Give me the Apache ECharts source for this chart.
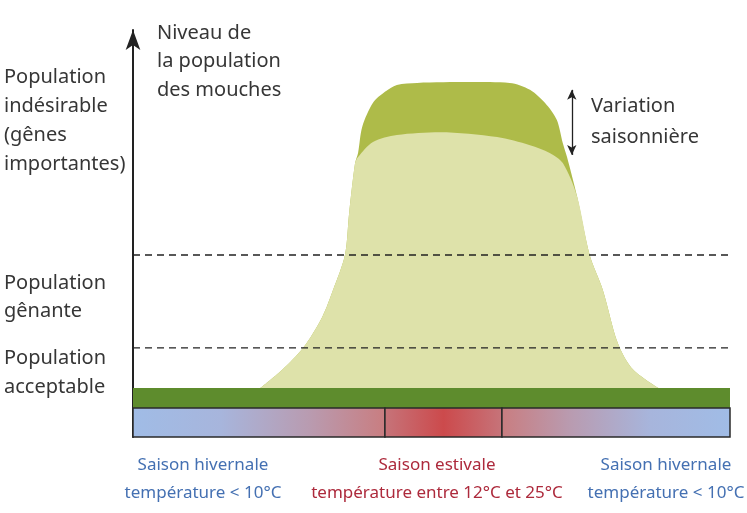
<!DOCTYPE html>
<html>
<head>
<meta charset="utf-8">
<script src="https://cdn.jsdelivr.net/npm/echarts@6/dist/echarts.min.js"></script>
<style>
html,body{margin:0;padding:0;background:#fff;}
#chart{width:747px;height:513px;}
</style>
</head>
<body>
<div id="chart"></div>
<script>
// Population level (light green) outline: [time, level]
const popX = [20.9, 25.0, 28.5, 31.7, 33.5, 35.5, 36.2, 37.2, 37.7, 40.2, 44.2, 51.4, 61.0, 66.5, 69.8, 72.0, 74.4, 76.5, 78.7, 81.2, 83.8, 88.6];
const popY = [11.5, 16.5, 21.9, 29.5, 36.1, 44.7, 55.0, 67.3, 68.8, 72.5, 74.2, 74.9, 73.7, 71.7, 69.8, 67.3, 59.0, 44.7, 36.1, 23.1, 16.5, 11.5];
// Seasonal variation (dark green) outline
const varX = [20.9, 25.0, 28.5, 31.7, 33.5, 35.5, 36.2, 37.2, 37.7, 38.4, 40.2, 42.2, 44.2, 47.6, 56.4, 63.1, 66.5, 69.3, 71.0, 72.0, 72.7, 74.4, 76.5, 78.7, 81.2, 83.8, 88.6];
const varY = [11.5, 16.5, 21.9, 29.5, 36.1, 44.7, 55.0, 67.3, 69.8, 76.2, 82.1, 84.8, 86.5, 87.0, 87.2, 87.0, 85.3, 81.6, 77.9, 72.2, 68.8, 59.0, 44.7, 36.1, 23.1, 16.5, 11.5];
// Threshold levels (dashed lines)
const thresholds = [21.9, 44.7];
// Season boundaries along time axis
const seasonBounds = [0, 42.2, 61.8, 100];
const seasonNames = ['Saison hivernale', 'Saison estivale', 'Saison hivernale'];
const seasonTemps = ['température < 10°C', 'température entre 12°C et 25°C', 'température < 10°C'];
// Level bands
const baseBand = [7.1, 12.04];   // dark green base band
const tempBar = [0, 7.1];        // temperature bar
// Seasonal variation arrow [x, yLow, yHigh]
const variationArrow = [73.5, 69.3, 85.3];
const levelLabels = ['Population\nindésirable\n(gênes\nimportantes)', 'Population\ngênante', 'Population\nacceptable'];

const G = echarts.graphic;
function grad(stops){
  return new G.LinearGradient(0,0,1,0, stops.map(s=>({offset:s[0], color:s[1]})));
}
const segGrads = [
  grad([[0,'#a0bce6'],[0.35,'#a7b5dc'],[0.7,'#b99bb0'],[1,'#c97d80']]),
  grad([[0,'#c6747a'],[0.5,'#cc4a4c'],[1,'#c6747a']]),
  grad([[0,'#c97d80'],[0.3,'#b99bb0'],[0.65,'#a7b5dc'],[1,'#a0bce6']])
];

const chart = echarts.init(document.getElementById('chart'), null, {renderer:'canvas'});
const FONT = 'Noto Sans';
const txt = '#363636';

const dashedSeries = thresholds.map(t=>({
  type:'line', z:9, silent:true, symbol:'none', data:[[0,t],[100,t]],
  lineStyle:{color:'#222', width:1.4, type:[7,5]}
}));

const option = {
  animation:false,
  grid:{left:133, right:17, top:30, bottom:76},
  xAxis:{type:'value', min:0, max:100, show:false},
  yAxis:{type:'value', min:0, max:100,
    axisLine:{show:true, lineStyle:{color:'#222', width:2}, symbol:['none','arrow'], symbolSize:[11,20], symbolOffset:[0,0]},
    axisTick:{show:false}, axisLabel:{show:false}, splitLine:{show:false}},
  series:[
    {type:'line', z:2, data: varX.map((x,i)=>[x,varY[i]]), smooth:0.3, symbol:'none',
      lineStyle:{width:0}, areaStyle:{color:'#aebb49', opacity:1}},
    {type:'line', z:3, data: popX.map((x,i)=>[x,popY[i]]), smooth:0.3, symbol:'none',
      lineStyle:{width:0}, areaStyle:{color:'#dee2aa', opacity:1}},
    {type:'line', z:5, data:[], symbol:'none',
      markArea:{silent:true, z:10, data:[
        [{xAxis:0, yAxis:baseBand[0], itemStyle:{color:'#5e8c2d'}}, {xAxis:100, yAxis:baseBand[1]}]
      ].concat(seasonNames.map((n,i)=>[
        {xAxis:seasonBounds[i], yAxis:tempBar[0], itemStyle:{color:segGrads[i], borderColor:'#2a2a2a', borderWidth:1.5}},
        {xAxis:seasonBounds[i+1], yAxis:tempBar[1]}
      ]))}
    },
    {type:'line', z:6, data:[], symbol:'none',
      markLine:{silent:true, z:8, symbol:['arrow','arrow'], symbolSize:[7,10], label:{show:false},
        lineStyle:{color:'#222', width:1.3, type:'solid'},
        data:[[{coord:[variationArrow[0], variationArrow[1]]},{coord:[variationArrow[0], variationArrow[2]]}]]}
    }
  ].concat(dashedSeries),
  graphic:[
    {type:'text', left:4, top:63, style:{text:levelLabels[0], font:'20px "'+FONT+'"', fill:txt, lineHeight:29}},
    {type:'text', left:4, top:269, style:{text:levelLabels[1], font:'20px "'+FONT+'"', fill:txt, lineHeight:28}},
    {type:'text', left:4, top:344, style:{text:levelLabels[2], font:'20px "'+FONT+'"', fill:txt, lineHeight:29}},
    {type:'text', left:157, top:19, style:{text:'Niveau de\nla population\ndes mouches', font:'20px "'+FONT+'"', fill:txt, lineHeight:28.5}},
    {type:'text', left:591, top:91, style:{text:'Variation\nsaisonnière', font:'20px "'+FONT+'"', fill:txt, lineHeight:31}},
    {type:'text', x:203, y:451, style:{text:seasonNames[0]+'\n'+seasonTemps[0], font:'17px "'+FONT+'"', fill:'#4470b2', lineHeight:28, align:'center'}},
    {type:'text', x:437, y:451, style:{text:seasonNames[1]+'\n'+seasonTemps[1], font:'17px "'+FONT+'"', fill:'#ad2a3c', lineHeight:28, align:'center'}},
    {type:'text', x:666, y:451, style:{text:seasonNames[2]+'\n'+seasonTemps[2], font:'17px "'+FONT+'"', fill:'#4470b2', lineHeight:28, align:'center'}}
  ]
};
chart.setOption(option);
</script>
</body>
</html>
